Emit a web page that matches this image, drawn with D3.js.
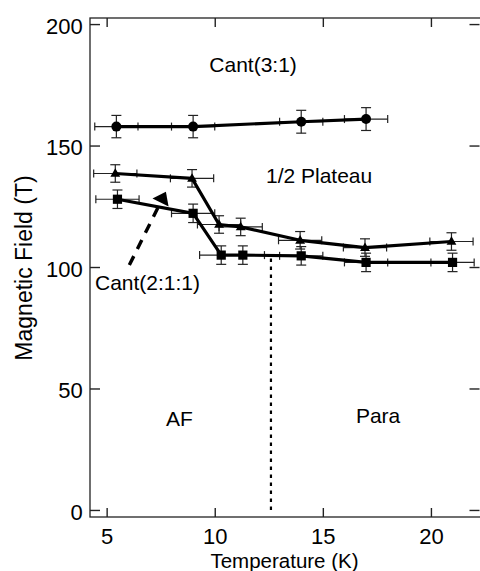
<!DOCTYPE html>
<html>
<head>
<meta charset="utf-8">
<script src="https://cdn.jsdelivr.net/npm/d3@7"></script>
<style>
  html, body { margin: 0; padding: 0; background: #fff; }
  svg { display: block; }
  text { font-family: "Liberation Sans", Arial, Helvetica, sans-serif; fill: #000; }
</style>
</head>
<body>
<svg id="chart" width="480" height="571"></svg>
<script>
// ---- data ----
const xTicks = [5, 10, 15, 20];
const yTicks = [0, 50, 100, 150, 200];

// Cant(3:1) boundary (circles)
const circleT = [5.45, 9.0, 14.0, 17.0];
const circleB = [157.8, 157.8, 159.8, 160.9];
const circleErrT = [1, 1, 1, 1];
const circleErrB = [4.6, 4.6, 4.7, 4.7];

// 1/2 plateau lower boundary (triangles)
const triT = [5.4, 8.95, 10.2, 11.2, 13.95, 16.95, 20.95];
const triB = [138.5, 136.5, 117.5, 116.5, 111.0, 108.0, 110.5];
const triErrT = [1, 1, 1, 1, 1, 1, 1];
const triErrB = [3.6, 3.6, 3.6, 3.6, 3.6, 3.6, 3.6];

// AF / Para upper boundary (squares)
const sqT = [5.5, 9.0, 10.3, 11.3, 14.0, 17.0, 21.0];
const sqB = [127.9, 122.1, 104.9, 104.9, 104.6, 101.9, 101.9];
const sqErrT = [1, 1, 1, 1, 1, 1, 1];
const sqErrB = [3.8, 3.8, 3.8, 3.8, 3.8, 3.8, 3.8];

// Neel temperature marker (dotted vertical)
const dottedT = [12.6, 12.6];
const dottedB = [0, 104];

// dashed arrow (start -> tip)
const arrowT = [6.05, 7.74];
const arrowB = [100.8, 131.0];

// region labels
const labelText = ["Cant(3:1)", "1/2 Plateau", "Cant(2:1:1)", "AF", "Para"];
const labelT = [9.75, 12.37, 4.46, 7.74, 16.53];
const labelB = [180.4, 134.4, 90.5, 34.6, 35.9];

// ---- layout ----
const L = 90, R = 480, T = 18, B = 517;
const svg = d3.select("#chart");
const x = d3.scaleLinear().domain([4.23, 22.27]).range([L, R]);
const y = d3.scaleLinear().domain([-2.9, 202.5]).range([B, T]);

const zip = (a, b, ea, eb) => a.map((v, i) => ({t: v, b: b[i], et: ea ? ea[i] : 0, eb: eb ? eb[i] : 0}));
const s1 = zip(circleT, circleB, circleErrT, circleErrB);
const s2 = zip(triT, triB, triErrT, triErrB);
const s3 = zip(sqT, sqB, sqErrT, sqErrB);

// ---- axes (inward ticks) ----
const fs = 22;
const ax = svg.append("g").attr("transform", `translate(0,${B})`)
  .call(d3.axisBottom(x).tickValues(xTicks).tickSizeInner(-9).tickSizeOuter(0).tickPadding(11.6));
const axTop = svg.append("g").attr("transform", `translate(0,${T})`)
  .call(d3.axisTop(x).tickValues(xTicks).tickSizeInner(-9).tickSizeOuter(0).tickFormat(""));
const ay = svg.append("g").attr("transform", `translate(${L},0)`)
  .call(d3.axisLeft(y).tickValues(yTicks).tickSizeInner(-10).tickSizeOuter(0).tickPadding(7.3));
const ayR = svg.append("g").attr("transform", `translate(${R - 0.5},0)`)
  .call(d3.axisRight(y).tickValues(yTicks).tickSizeInner(-10).tickSizeOuter(0).tickFormat(""));
[ax, axTop, ay, ayR].forEach(g => {
  g.select(".domain").remove();
  g.selectAll(".tick line").attr("stroke", "#222").attr("stroke-width", 1.4);
  g.selectAll("text").attr("font-size", fs).attr("font-family", "Liberation Sans, Arial, sans-serif").attr("fill", "#000");
});
ay.selectAll("text").attr("dy", "0.42em");

// frame (right side lies just outside the picture, as in the reference)
svg.append("rect").attr("x", L).attr("y", T).attr("width", R + 2 - L).attr("height", B - T)
  .attr("fill", "none").attr("stroke", "#222").attr("stroke-width", 1.3);

// axis titles
svg.append("text").attr("x", 284.5).attr("y", 567.5).attr("text-anchor", "middle")
  .attr("font-size", 20.5).text("Temperature (K)");
svg.append("text").attr("transform", "translate(31.5,268) rotate(-90)").attr("text-anchor", "middle")
  .attr("font-size", 23).text("Magnetic Field (T)");

// ---- error bars ----
const eg = svg.append("g").attr("stroke", "#222").attr("stroke-width", 1.2).attr("fill", "none");
function errorBars(data) {
  data.forEach(d => {
    const cx = x(d.t), cy = y(d.b);
    const x0 = x(d.t - d.et), x1 = x(d.t + d.et);
    const y0 = y(d.b - d.eb), y1 = y(d.b + d.eb);
    eg.append("line").attr("x1", x0).attr("x2", x1).attr("y1", cy).attr("y2", cy);
    eg.append("line").attr("x1", x0).attr("x2", x0).attr("y1", cy - 4).attr("y2", cy + 4);
    eg.append("line").attr("x1", x1).attr("x2", x1).attr("y1", cy - 4).attr("y2", cy + 4);
    eg.append("line").attr("x1", cx).attr("x2", cx).attr("y1", y0).attr("y2", y1);
    eg.append("line").attr("x1", cx - 5).attr("x2", cx + 5).attr("y1", y0).attr("y2", y0);
    eg.append("line").attr("x1", cx - 5).attr("x2", cx + 5).attr("y1", y1).attr("y2", y1);
  });
}
[s1, s2, s3].forEach(errorBars);

// ---- lines ----
const line = d3.line().x(d => x(d.t)).y(d => y(d.b));
[s1, s2, s3].forEach(s => {
  svg.append("path").datum(s).attr("d", line).attr("fill", "none")
    .attr("stroke", "#000").attr("stroke-width", 3.2).attr("stroke-linejoin", "round");
});

// ---- markers ----
svg.append("g").selectAll("circle").data(s1).join("circle")
  .attr("cx", d => x(d.t)).attr("cy", d => y(d.b)).attr("r", 5).attr("fill", "#000");
svg.append("g").selectAll("path").data(s2).join("path")
  .attr("transform", d => `translate(${x(d.t)},${y(d.b) + 0.5})`)
  .attr("d", d3.symbol(d3.symbolTriangle, 42)).attr("fill", "#000");
svg.append("g").selectAll("rect").data(s3).join("rect")
  .attr("x", d => x(d.t) - 4.6).attr("y", d => y(d.b) - 4.6)
  .attr("width", 9.2).attr("height", 9.2).attr("fill", "#000");

// ---- dotted vertical ----
svg.append("line")
  .attr("x1", x(dottedT[0])).attr("x2", x(dottedT[1]))
  .attr("y1", y(dottedB[0])).attr("y2", y(dottedB[1]))
  .attr("stroke", "#000").attr("stroke-width", 2.2).attr("stroke-dasharray", "3.5,4.5");

// ---- dashed arrow ----
{
  const px0 = x(arrowT[0]), py0 = y(arrowB[0]);
  const px1 = x(arrowT[1]), py1 = y(arrowB[1]);
  const dx = px1 - px0, dy = py1 - py0, len = Math.hypot(dx, dy);
  const ux = dx / len, uy = dy / len;
  const head = 12, hw = 9;
  const bx = px1 - ux * head, by = py1 - uy * head;
  svg.append("line").attr("x1", px0).attr("y1", py0).attr("x2", bx).attr("y2", by)
    .attr("stroke", "#000").attr("stroke-width", 3.4).attr("stroke-dasharray", "10,8");
  const pts = [[px1, py1], [bx - uy * hw, by + ux * hw], [bx + uy * hw, by - ux * hw]];
  svg.append("polygon").attr("points", pts.map(p => p.join(",")).join(" ")).attr("fill", "#000");
}

// ---- region labels ----
svg.append("g").selectAll("text").data(labelText).join("text")
  .attr("x", (d, i) => x(labelT[i])).attr("y", (d, i) => y(labelB[i]))
  .attr("font-size", 21).text(d => d);
</script>
</body>
</html>
